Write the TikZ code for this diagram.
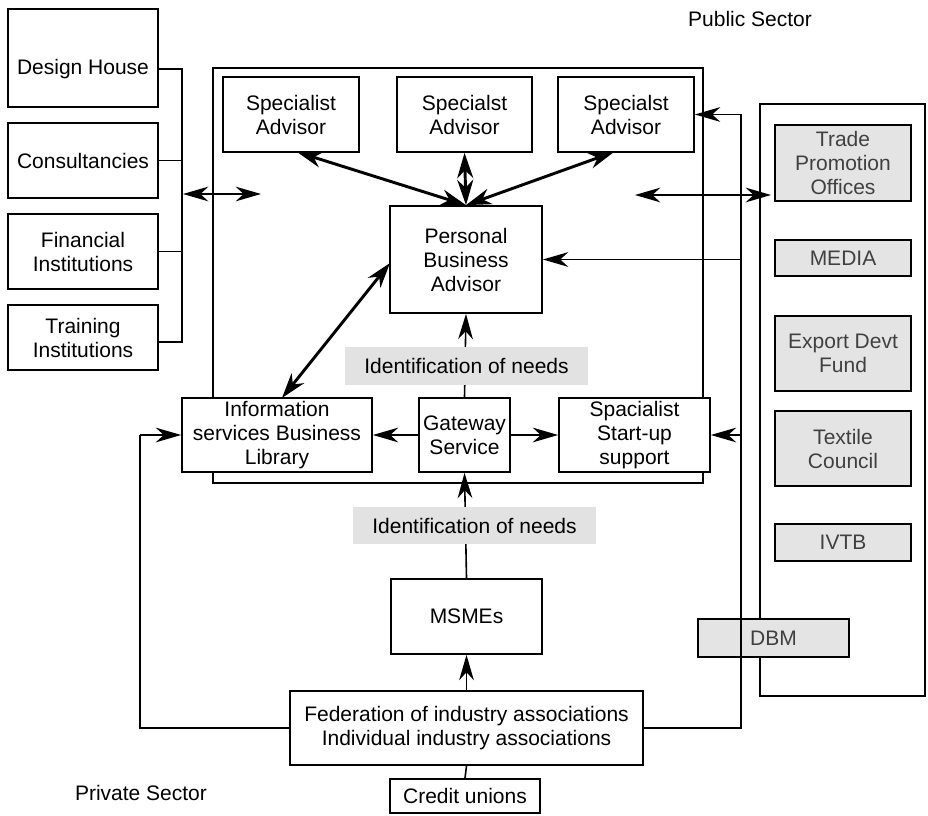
\documentclass[tikz,border=0pt]{standalone}
\usepackage{fontspec}
\setmainfont{Liberation Sans}
\usetikzlibrary{arrows.meta}
\definecolor{boxgray}{HTML}{E4E4E4}
\definecolor{lblgray}{HTML}{E2E2E2}
\definecolor{gtext}{HTML}{404040}
\newcommand{\dfont}{\fontsize{15.75}{18}\selectfont}
\newcommand{\mkbox}[7]{\node[#1, minimum width={(#5-#3)*0.75pt}, minimum height={(#6-#4)*0.75pt}] (#2) at ({(#3+#5)/2},{(#4+#6)/2}) {#7};}
\begin{document}
\begin{tikzpicture}[x=0.75pt,y=-0.75pt,
  box/.style={draw, line width=1.3pt, fill=white, align=center, inner sep=0pt, font=\dfont},
  gbox/.style={box, fill=boxgray, text=gtext},
  lbl/.style={fill=lblgray, align=center, inner sep=0pt, font=\dfont},
  frame/.style={draw, line width=1.3pt},
  ln/.style={line width=1.2pt},
  arr/.style={ln, -{Stealth[length=19pt,width=11pt,inset=6pt]}},
  darr/.style={ln, {Stealth[length=19pt,width=11pt,inset=6pt]}-{Stealth[length=19pt,width=11pt,inset=6pt]}},
  tarr/.style={line width=2.2pt, {Stealth[length=19pt,width=12pt,inset=6pt]}-{Stealth[length=19pt,width=12pt,inset=6pt]}},
  txt/.style={font=\dfont, inner sep=0pt, align=center}]
\useasboundingbox (0,0) rectangle (928,816);

% frames
\draw[frame] (213,68) rectangle (703,483);
\draw[frame] (760,104) rectangle (925,696);

% left column
\mkbox{box}{dh}{8}{9}{158}{107}{}
\node[txt] (dht) at (83,69) {Design House};
\mkbox{box}{cons}{8}{123}{158}{198}{Consultancies}
\mkbox{box}{fin}{8}{214}{158}{289}{Financial\\Institutions}
\mkbox{box}{train}{8}{305}{158}{370}{Training\\Institutions}

% advisors
\mkbox{box}{sa1}{223}{77}{359}{152}{Specialist\\Advisor}
\mkbox{box}{sa2}{397}{77}{532}{152}{Specialst\\Advisor}
\mkbox{box}{sa3}{558}{77}{694}{152}{Specialst\\Advisor}
\mkbox{box}{pba}{390}{206}{542}{313}{Personal\\Business\\Advisor}

% service row
\mkbox{box}{info}{182}{398}{372}{472}{Information\\services Business\\Library}
\mkbox{box}{gw}{419}{398}{510}{472}{Gateway\\Service}
\mkbox{box}{ssu}{559}{398}{710}{472}{Spacialist\\Start-up\\support}

% lower part
\mkbox{box}{msme}{391}{579}{542}{654}{MSMEs}
\mkbox{box}{fed}{290}{691}{643}{765}{Federation of industry associations\\Individual industry associations}
\mkbox{box}{cu}{390}{779}{540}{813}{Credit unions}

% public sector column
\mkbox{gbox}{tpo}{775}{125}{911}{201}{Trade\\Promotion\\Offices}
\mkbox{gbox}{media}{775}{240}{911}{276}{MEDIA}
\mkbox{gbox}{edf}{775}{316}{911}{391}{Export Devt\\Fund}
\mkbox{gbox}{tc}{775}{411}{911}{486}{Textile\\Council}
\mkbox{gbox}{ivtb}{775}{524}{911}{561}{IVTB}
\mkbox{gbox}{dbm}{698}{619}{849}{657}{DBM}

% sector labels
\node[txt] (pub) at (750,19) {Public Sector};
\node[txt] (priv) at (141,793) {Private Sector};

% left bus
\coordinate (bt) at (182,69);
\coordinate (bb) at (182,342);
\coordinate (bm) at (183,194);
\coordinate (bl) at (261,194);
\draw[ln] (dh.east |- bt) -- (bt) -- (bb) -- (train.east |- bb);
\draw[ln] (cons.east) -- (cons.east -| bt);
\draw[ln] (fin.east) -- (fin.east -| bt);
\draw[darr] (bm) -- (bl);

% right double arrow
\coordinate (rl) at (635,195);
\coordinate (rr) at (771,195);
\draw[darr] (rl) -- (rr);

% advisor arrows
\draw[tarr] (297,152) -- (pba.north);
\draw[tarr] (sa2.south) -- (pba.north);
\draw[tarr] (614,152) -- (pba.north);
\draw[tarr] (282,398) -- (390,263);

% gateway arrows
\draw[arr] (gw.west) -- (info.east);
\draw[arr] (gw.east) -- (ssu.west);
\draw[arr] (gw.north) -- (pba.south);
\draw[arr] (msme.north) -- (gw.south);
\draw[arr] (fed.north) -- (msme.south);
\draw[ln] (fed.south) -- (cu.north);

% left feedback line
\coordinate (lb) at (140,728);
\coordinate (lt) at (140,435);
\draw[ln] (fed.west) -- (lb) -- (lt);
\draw[arr] (lt) -- (info.west);

% right feedback line
\coordinate (rb) at (741,728);
\coordinate (rt) at (741,114.5);
\coordinate (r1) at (741,259.5);
\coordinate (r2) at (741,435);
\draw[ln] (fed.east) -- (rb) -- (rt);
\draw[arr] (rt) -- (sa3.east);
\draw[arr] (r1) -- (pba.east);
\draw[arr] (r2) -- (ssu.east);

% need labels (over the lines)
\mkbox{lbl}{id1}{345}{347}{588}{385}{Identification of needs}
\mkbox{lbl}{id2}{353}{507}{596}{544}{Identification of needs}
\end{tikzpicture}
\end{document}
